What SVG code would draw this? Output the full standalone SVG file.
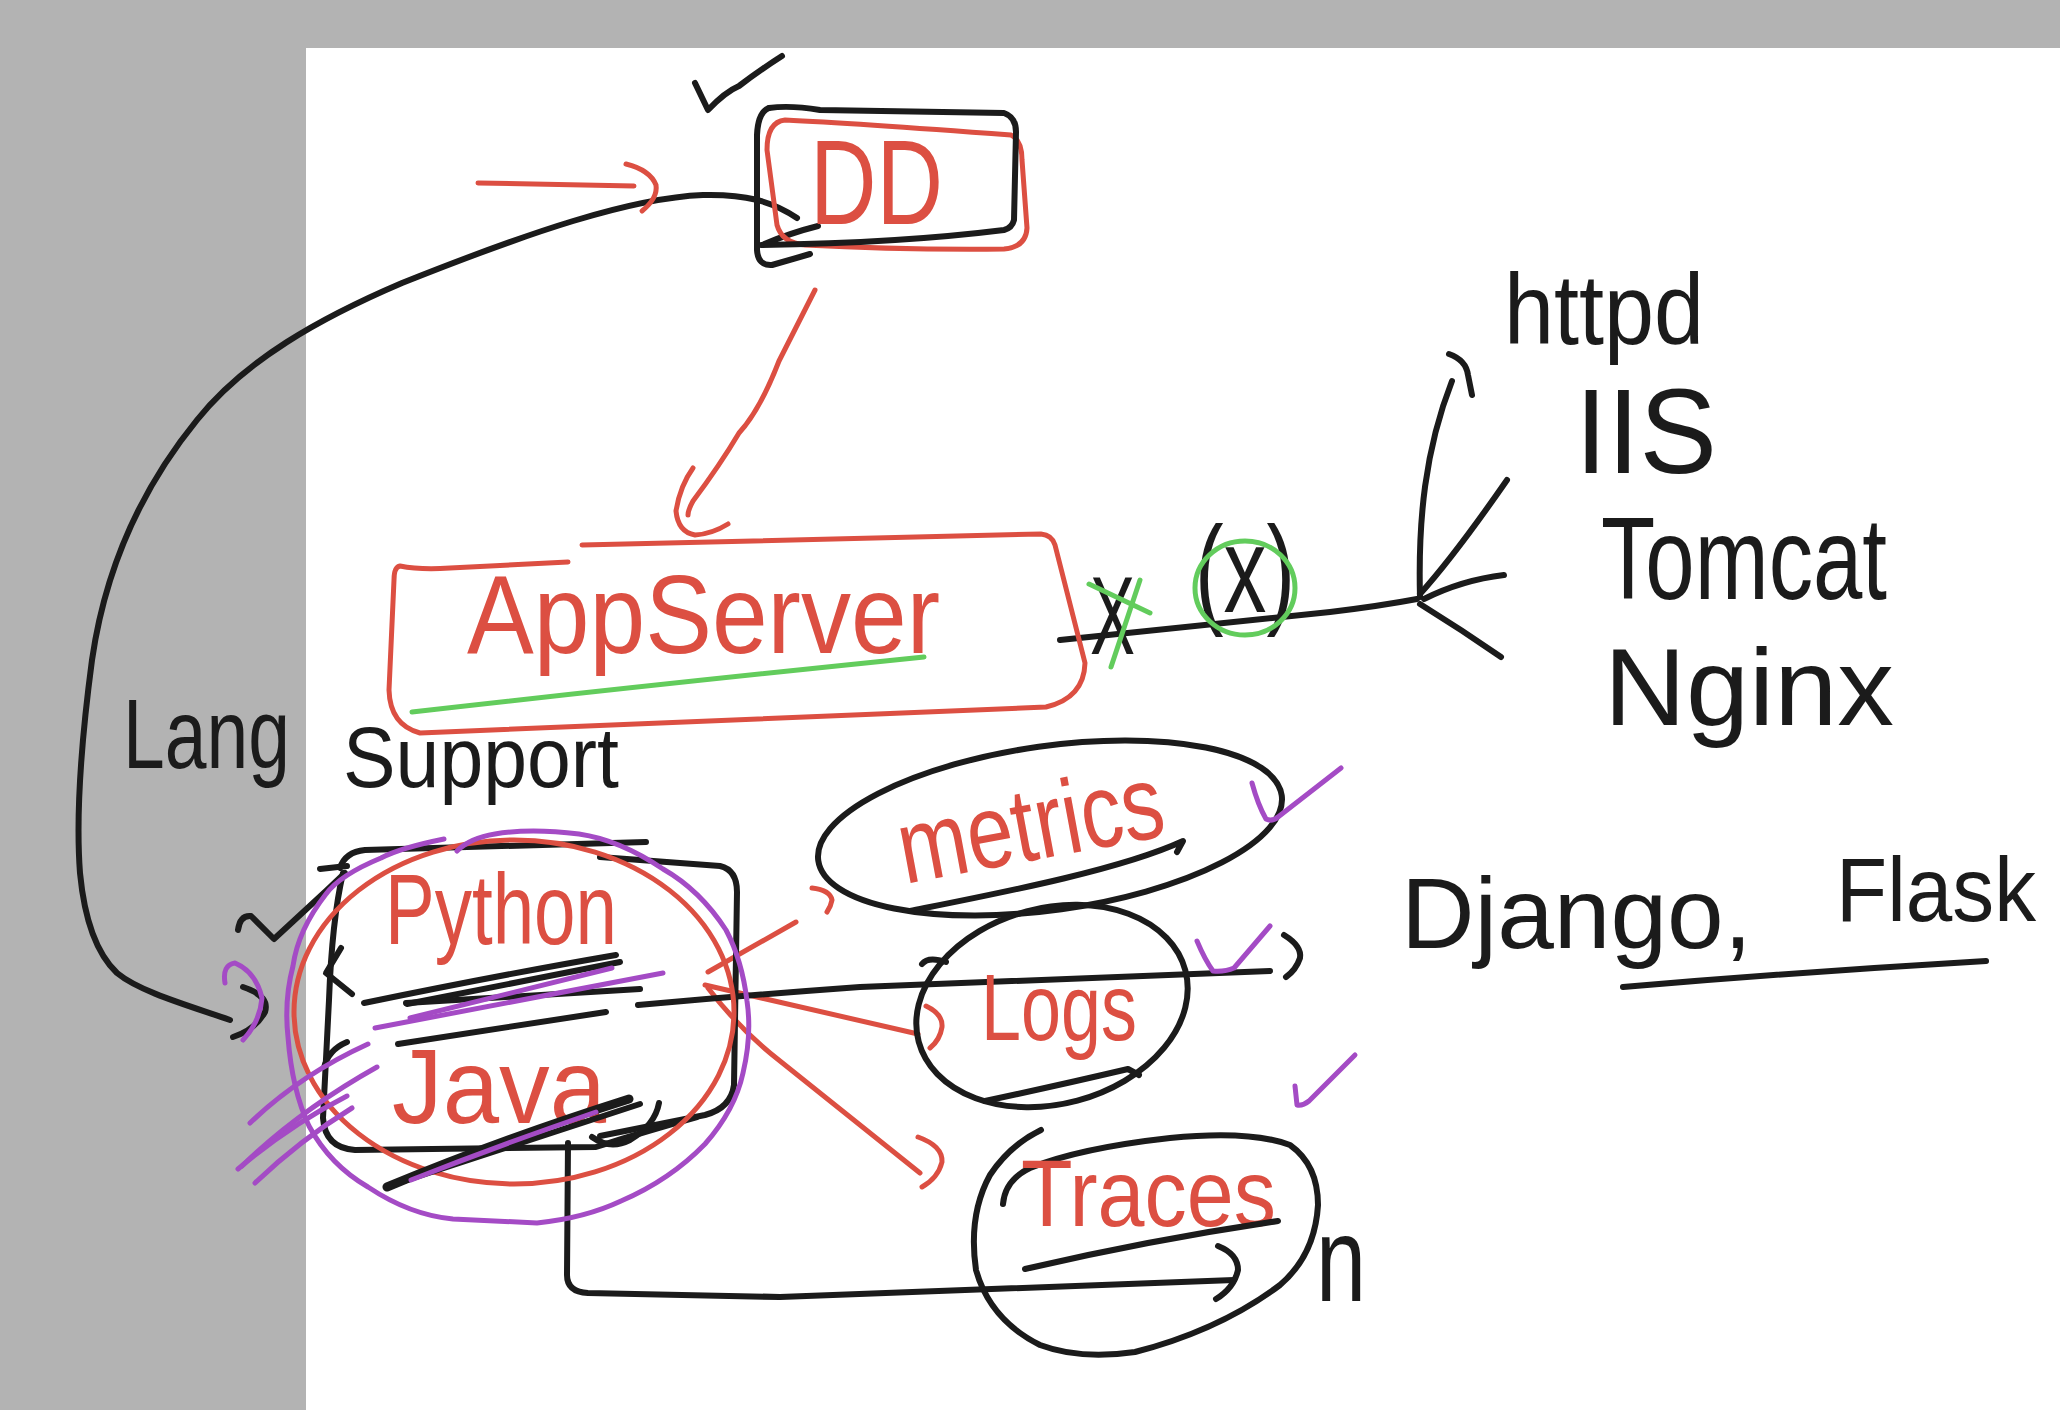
<svg xmlns="http://www.w3.org/2000/svg" width="2060" height="1410" viewBox="0 0 2060 1410">
<style>
.k{fill:none;stroke:#1b1b1b;stroke-width:6;stroke-linecap:round;stroke-linejoin:round}
.kb{fill:none;stroke:#1b1b1b;stroke-width:9;stroke-linecap:round;stroke-linejoin:round}
.r{fill:none;stroke:#dc4f42;stroke-width:5;stroke-linecap:round;stroke-linejoin:round}
.p{fill:none;stroke:#a44bc5;stroke-width:5;stroke-linecap:round;stroke-linejoin:round}
.g{fill:none;stroke:#62cc5c;stroke-width:5;stroke-linecap:round;stroke-linejoin:round}
text{font-family:"Liberation Sans",Arial,sans-serif}
.tr{fill:#dc4f42}
.tk{fill:#1b1b1b}
</style>
<rect x="0" y="0" width="2060" height="1410" fill="#b3b3b3"/>
<rect x="306" y="48" width="1754" height="1362" fill="#ffffff"/>

<g id="connectors">
  <!-- Lang arrow from DD to language box -->
  <path class="k" d="M797,218 C772,201 745,194 703,195 C630,198 530,232 402,283 C320,318 245,360 197,420 C140,490 105,570 92,660 C80,750 76,820 80,873 C85,925 98,955 117,973 C140,992 190,1006 230,1020"/>
  <path class="k" d="M818,226 Q790,233 762,245"/>
  <path class="k" d="M243,987 Q270,996 265,1012 Q255,1030 233,1037"/>
  <path class="p" d="M225,983 Q222,965 235,963 Q256,972 262,998 Q260,1022 243,1040"/>
  <!-- red arrow into DD -->
  <path class="r" d="M478,183 L634,186"/>
  <path class="r" d="M626,164 Q650,170 656,185 Q658,198 642,211"/>
  <!-- DD to AppServer -->
  <path class="r" d="M815,290 L779,361 Q760,410 739,433 Q720,465 693,501 Q688,510 688,515"/>
  <path class="r" d="M693,468 Q680,486 676,511 Q678,532 695,535 Q712,534 728,524"/>
  <!-- AppServer to web servers -->
  <path class="k" d="M1060,640 L1330,612 Q1380,606 1417,599"/>
  <path class="k" d="M1420,597 C1418,520 1425,450 1452,381"/>
  <path class="k" d="M1449,354 Q1466,360 1468,375 L1472,395"/>
  <path class="k" d="M1420,594 Q1455,555 1507,480"/>
  <path class="k" d="M1424,599 Q1462,580 1504,575"/>
  <path class="k" d="M1420,604 Q1462,630 1501,657"/>
  <!-- red lines to metrics / logs / traces -->
  <path class="r" d="M708,972 L796,922"/>
  <path class="r" d="M812,888 Q830,890 832,900 Q831,906 827,912"/>
  <path class="r" d="M705,985 L918,1034"/>
  <path class="r" d="M926,1006 Q943,1014 942,1027 Q940,1040 930,1048"/>
  <path class="r" d="M708,988 Q740,1030 780,1061 L920,1173"/>
  <path class="r" d="M918,1137 Q943,1146 942,1162 Q938,1178 922,1187"/>
  <!-- black line to logs -->
  <path class="k" d="M638,1005 Q750,995 860,987 L1270,971"/>
  <path class="k" d="M1284,935 Q1302,946 1300,958 Q1296,970 1286,977"/>
  <!-- java to traces -->
  <path class="k" d="M568,1143 L567,1275 Q567,1292 588,1293 L780,1297 L1234,1280"/>
  <path class="k" d="M1218,1246 Q1238,1254 1238,1270 Q1234,1288 1216,1299"/>
</g>

<g id="dd">
  <path class="r" d="M785,120 Q850,123 1011,135 Q1022,140 1022,160 L1027,228 Q1026,247 1004,249 Q900,250 805,245 Q782,243 777,225 L767,150 Q767,122 785,120 Z"/>
  <path class="k" d="M769,108 Q790,105 820,110 L1004,113 Q1016,117 1016,132 L1014,220 Q1012,228 1004,230 Q900,243 762,245"/>
  <path class="k" d="M769,108 Q758,112 757,135 L757,250 Q758,266 772,265 L810,254"/>
  <text class="tr" x="810" y="224" font-size="120" textLength="133" lengthAdjust="spacingAndGlyphs">DD</text>
  <path class="k" d="M695,83 L708,110 Q725,92 739,86 Q760,70 782,56"/>
</g>

<g id="appserver">
  <path class="r" d="M568,562 L450,568 Q420,570 400,566 Q394,567 394,580 L389,690 Q390,725 420,733 L1046,707 Q1084,698 1085,663 L1055,545 Q1052,535 1041,534 L582,545"/>
  <text class="tr" x="467" y="653" font-size="112" textLength="473" lengthAdjust="spacingAndGlyphs">AppServer</text>
  <path class="g" d="M412,712 Q650,685 924,657"/>
  <text class="tk" x="1090" y="654" font-size="112" textLength="45" lengthAdjust="spacingAndGlyphs">X</text>
  <path class="g" d="M1089,584 L1150,613 M1140,580 L1111,667"/>
  <text class="tk" x="1195" y="612" font-size="122" textLength="100" lengthAdjust="spacingAndGlyphs">(x)</text>
  <ellipse class="g" cx="1245" cy="588" rx="50" ry="47"/>
</g>

<g id="lang-label">
  <text class="tk" x="123" y="768" font-size="98" textLength="167" lengthAdjust="spacingAndGlyphs">Lang</text>
  <text class="tk" x="343" y="787" font-size="85" textLength="276" lengthAdjust="spacingAndGlyphs">Support</text>
</g>

<g id="languages">
  <path class="k" d="M340,868 Q345,852 365,850 L646,842"/>
  <path class="k" d="M600,857 L720,866 Q737,870 737,892 L734,1085 Q731,1108 705,1115 L600,1136"/>
  <path class="k" d="M343,873 Q332,920 329,1000 L323,1118 Q325,1148 355,1150 L596,1147 Q650,1130 697,1117"/>
  <path class="k" d="M320,869 L347,866"/>
  <path class="k" d="M238,930 Q240,915 251,916 L274,939 L326,891 L345,873"/>
  <path class="k" d="M341,948 L326,973 L352,994"/>
  <path class="k" d="M347,1042 Q328,1050 324,1068"/>
  <ellipse class="r" cx="514" cy="1012" rx="220" ry="172"/>
  <text class="tr" x="385" y="944" font-size="100" textLength="232" lengthAdjust="spacingAndGlyphs">Python</text>
  <text class="tr" x="392" y="1123" font-size="105" textLength="214" lengthAdjust="spacingAndGlyphs">Java</text>
  <path class="k" d="M364,1003 Q500,975 616,955"/>
  <path class="k" d="M407,1004 L620,962"/>
  <path class="k" d="M406,1003 L640,989"/>
  <path class="k" d="M398,1044 L606,1012"/>
  <path class="p" d="M375,1028 Q520,1000 663,973"/>
  <path class="p" d="M410,1018 L612,968"/>
  <path class="kb" d="M387,1187 Q500,1140 629,1099"/>
  <path class="k" d="M395,1184 L640,1104"/>
  <path class="k" d="M592,1137 Q610,1150 630,1140 Q655,1125 659,1103"/>
  <path class="p" d="M411,1180 Q500,1145 596,1112"/>
  <path class="p" d="M444,839 Q400,848 381,858 Q340,875 326,894 Q298,930 293,966 Q284,1000 288,1037 Q292,1090 309,1126 Q330,1165 368,1187 Q410,1215 453,1219 L537,1223 Q585,1218 621,1201 Q670,1180 705,1144 Q735,1110 743,1073 Q752,1035 747,1001 Q742,960 726,930 Q700,890 663,869 Q620,840 579,834 Q530,828 495,834 Q470,838 457,851"/>
  <path class="p" d="M250,1123 Q300,1075 368,1044"/>
  <path class="p" d="M242,1166 Q300,1110 377,1067"/>
  <path class="p" d="M255,1183 Q300,1140 352,1108"/>
  <path class="p" d="M238,1169 Q290,1125 347,1096"/>
</g>

<g id="metrics">
  <ellipse class="k" cx="1050" cy="828" rx="234" ry="82" transform="rotate(-8 1050 828)"/>
  <text class="tr" x="905" y="884" font-size="105" textLength="268" lengthAdjust="spacingAndGlyphs" transform="rotate(-10.5 905 884)">metrics</text>
  <path class="k" d="M910,911 C1000,893 1120,870 1183,841 L1177,852"/>
  <path class="p" d="M1252,783 Q1258,805 1266,819 Q1272,822 1278,817 L1341,768"/>
</g>

<g id="logs">
  <ellipse class="k" cx="1052" cy="1006" rx="138" ry="98" transform="rotate(-15 1052 1006)"/>
  <path class="k" d="M922,964 Q928,956 946,962"/>
  <text class="tr" x="981" y="1040" font-size="95" textLength="156" lengthAdjust="spacingAndGlyphs">Logs</text>
  <path class="k" d="M985,1101 Q1060,1085 1128,1069 L1139,1075"/>
  <path class="p" d="M1197,941 Q1205,960 1213,971 Q1225,972 1234,968 L1270,926"/>
</g>

<g id="traces">
  <path class="k" d="M1003,1204 Q1005,1180 1030,1168 Q1080,1148 1170,1138 Q1250,1130 1290,1145 Q1318,1165 1318,1205 Q1315,1255 1280,1285 Q1220,1330 1135,1352 Q1080,1360 1040,1345 Q990,1320 976,1270 Q968,1215 990,1175 Q1010,1145 1041,1130"/>
  <text class="tr" x="1021" y="1226" font-size="95" textLength="255" lengthAdjust="spacingAndGlyphs">Traces</text>
  <path class="k" d="M1025,1269 Q1150,1240 1278,1221"/>
  <path class="p" d="M1295,1086 L1297,1105 Q1303,1106 1309,1101 L1355,1055"/>
  <text class="tk" x="1316" y="1301" font-size="120" textLength="50" lengthAdjust="spacingAndGlyphs">n</text>
</g>

<g id="httpd"><text class="tk" x="1504" y="344" font-size="100" textLength="200" lengthAdjust="spacingAndGlyphs">httpd</text></g>
<g id="iis"><text class="tk" x="1575" y="473" font-size="120" textLength="142" lengthAdjust="spacingAndGlyphs">IIS</text></g>
<g id="tomcat"><text class="tk" x="1601" y="599" font-size="116" textLength="286" lengthAdjust="spacingAndGlyphs">Tomcat</text></g>
<g id="nginx"><text class="tk" x="1604" y="725" font-size="110" textLength="290" lengthAdjust="spacingAndGlyphs">Nginx</text></g>
<g id="frameworks">
  <text class="tk" x="1401" y="948" font-size="100" textLength="351" lengthAdjust="spacingAndGlyphs">Django,</text>
  <text class="tk" x="1836" y="921" font-size="90" textLength="200" lengthAdjust="spacingAndGlyphs">Flask</text>
  <path class="k" d="M1623,987 Q1800,972 1986,961"/>
</g>
</svg>
